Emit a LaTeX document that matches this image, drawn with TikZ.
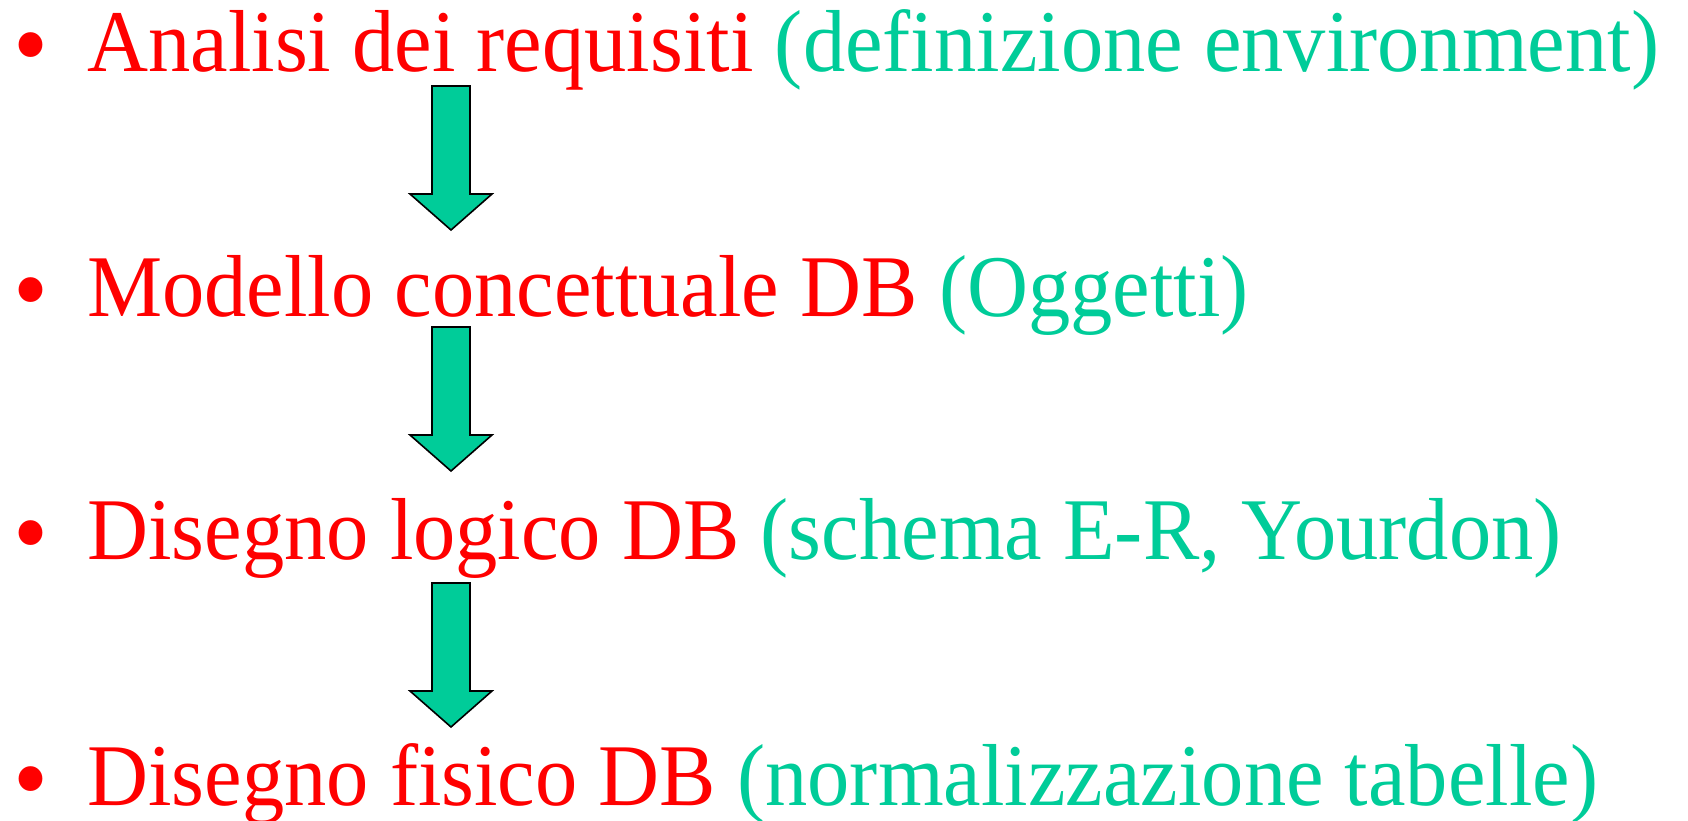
\documentclass[tikz,border=0pt]{standalone}
\usepackage{fontspec}
\setmainfont{Liberation Serif}[FakeStretch=0.96]
\definecolor{fasered}{HTML}{FF0000}
\definecolor{notegreen}{HTML}{00CC99}
\newcommand{\fase}[2]{\textcolor{fasered}{#1} \textcolor{notegreen}{#2}}
\tikzset{
  voce/.style={anchor=base west, inner sep=0pt, font=\fontsize{44}{53}\selectfont},
  punto/.style={anchor=base, inner sep=0pt, text=fasered, yshift=-4pt, font=\fontsize{52}{60}\selectfont},
  freccia/.style={draw=black, line width=0.8pt, fill=notegreen, line join=miter}
}
\begin{document}
\begin{tikzpicture}[x=0.5pt, y=-0.5pt]
  \useasboundingbox (0,0) rectangle (1688,820);
  % elenco delle fasi
  \node[punto] (p1) at (31,71) {\textbullet};
  \node[voce] (v1) at (87,71) {\fase{Analisi dei requisiti}{(definizione environment)}};
  \node[punto] (p2) at (31,316) {\textbullet};
  \node[voce] (v2) at (87,316) {\fase{Modello concettuale DB}{(Oggetti)}};
  \node[punto] (p3) at (31,559) {\textbullet};
  \node[voce] (v3) at (87,559) {\fase{Disegno logico DB}{(schema E-R, Yourdon)}};
  \node[punto] (p4) at (31,805) {\textbullet};
  \node[voce] (v4) at (87,805) {\fase{Disegno fisico DB}{(normalizzazione tabelle)}};
  % frecce tra le fasi
  \coordinate (a1) at (451,86);
  \coordinate (a2) at (451,327);
  \coordinate (a3) at (451,583);
  \foreach \a in {a1,a2,a3}
    \draw[freccia] (\a) ++(-19,0) -- ++(38,0) -- ++(0,108) -- ++(22,0) -- ++(-41,36)
      -- ++(-41,-36) -- ++(22,0) -- cycle;
\end{tikzpicture}
\end{document}
